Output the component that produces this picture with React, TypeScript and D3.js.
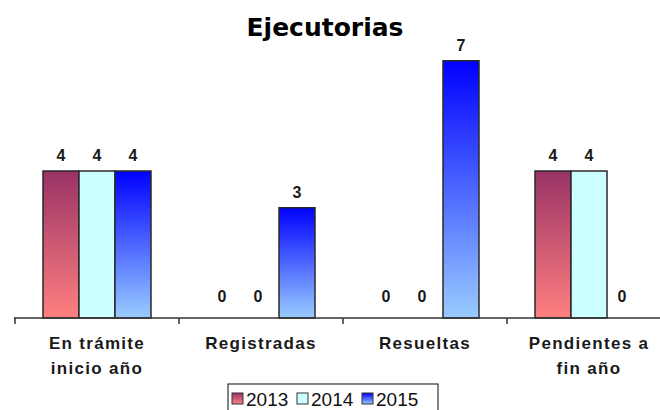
import React from "react";
import * as d3 from "d3";

const categories = ["En trámite|inicio año", "Registradas", "Resueltas", "Pendientes a|fin año"];
const seriesNames = ["2013", "2014", "2015"];
const values2013 = [4, 0, 0, 4];
const values2014 = [4, 0, 0, 4];
const values2015 = [4, 3, 7, 0];
const seriesValues = [values2013, values2014, values2015];
const title = "Ejecutorias";

const W = 660;
const H = 410;
const plotLeft = 15;
const catWidth = 164;
const baseY = 318;
const topY = 24;
const yMax = 8;

const gradients = [
  { id: "g2013", top: "#993366", bottom: "#FF8080" },
  { id: "g2014", top: "#CCFFFF", bottom: "#CCFFFF" },
  { id: "g2015", top: "#0000FF", bottom: "#99CCFF" },
];

export default function App() {
  const x0 = d3
    .scaleBand<string>()
    .domain(categories)
    .range([plotLeft, plotLeft + catWidth * categories.length])
    .padding(0);
  const x1 = d3
    .scaleBand<string>()
    .domain(seriesNames)
    .range([28, catWidth - 28])
    .padding(0);
  const y = d3.scaleLinear().domain([0, yMax]).range([baseY, topY]);

  const bw = x1.bandwidth();
  const tickXs = categories
    .map((c) => x0(c) as number)
    .concat([(x0(categories[categories.length - 1]) as number) + catWidth]);

  const fontBold = "'Liberation Sans', Arial, sans-serif";

  return (
    <svg width={W} height={H} style={{ position: "fixed", left: 0, top: 0, background: "#fff" }}>
      <defs>
        {gradients.map((g) => (
          <linearGradient key={g.id} id={g.id} x1="0" y1="0" x2="0" y2="1">
            <stop offset="0%" stopColor={g.top} />
            <stop offset="100%" stopColor={g.bottom} />
          </linearGradient>
        ))}
      </defs>
      <rect x={0} y={0} width={W} height={H} fill="#fff" />
      <text
        x={325}
        y={36}
        textAnchor="middle"
        fontFamily="'DejaVu Sans', Verdana, sans-serif"
        fontWeight="bold"
        fontSize={25}
        fill="#000"
      >
        {title}
      </text>

      {categories.map((c, ci) => (
        <g key={c} transform={`translate(${x0(c)},0)`}>
          {seriesNames.map((s, si) => {
            const v = seriesValues[si][ci];
            const bx = x1(s) as number;
            return (
              <g key={s}>
                {v > 0 && (
                  <rect
                    x={bx}
                    y={y(v)}
                    width={bw}
                    height={baseY - y(v)}
                    fill={`url(#${gradients[si].id})`}
                    stroke="#2a2a2a"
                    strokeWidth={1.5}
                  />
                )}
                <text
                  x={bx + bw / 2 - (v === 0 ? 3 : 0)}
                  y={v === 0 ? y(v) - 16 : y(v) - 10}
                  textAnchor="middle"
                  fontFamily={fontBold}
                  fontWeight="bold"
                  fontSize={16}
                  fill="#1a1a1a"
                >
                  {v}
                </text>
              </g>
            );
          })}
        </g>
      ))}

      <line x1={plotLeft - 1} x2={W} y1={baseY} y2={baseY} stroke="#333" strokeWidth={1.5} />
      {tickXs.map((tx, i) => (
        <line key={i} x1={tx} x2={tx} y1={baseY} y2={baseY + 6} stroke="#333" strokeWidth={1.5} />
      ))}
      {categories.map((c) => {
        const lines = c.split("|");
        const cx = (x0(c) as number) + catWidth / 2;
        return (
          <text
            key={c}
            x={cx}
            y={349}
            textAnchor="middle"
            fontFamily={fontBold}
            fontWeight="bold"
            fontSize={17}
            letterSpacing={1.3}
            fill="#1a1a1a"
          >
            {lines.map((l, li) => (
              <tspan key={li} x={cx} dy={li === 0 ? 0 : 25}>
                {l}
              </tspan>
            ))}
          </text>
        );
      })}

      <rect x={228} y={384} width={210} height={30} fill="#fff" stroke="#333" strokeWidth={1.2} />
      {seriesNames.map((s, si) => {
        const lx = 232 + si * 65;
        return (
          <g key={s}>
            <rect x={lx} y={393} width={11} height={11} fill={`url(#${gradients[si].id})`} stroke="#333" strokeWidth={1} />
            <text x={lx + 14} y={406} fontFamily={fontBold} fontSize={19} fill="#111">
              {s}
            </text>
          </g>
        );
      })}
    </svg>
  );
}
